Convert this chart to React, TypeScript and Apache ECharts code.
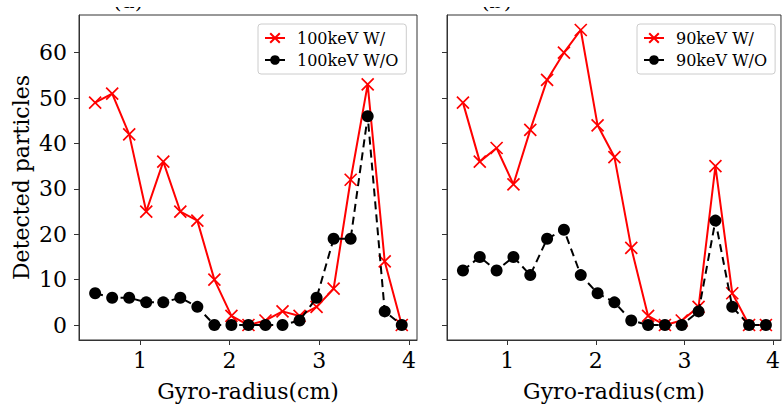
import React, { useEffect, useRef } from "react";
import * as echarts from "echarts";

const gyroRadius = [0.50, 0.69, 0.88, 1.07, 1.26, 1.45, 1.64, 1.83, 2.02, 2.21, 2.40, 2.59, 2.78, 2.97, 3.16, 3.35, 3.54, 3.73, 3.92];
const with100 = [49, 51, 42, 25, 36, 25, 23, 10, 2, 0, 1, 3, 2, 4, 8, 32, 53, 14, 0];
const without100 = [7, 6, 6, 5, 5, 6, 4, 0, 0, 0, 0, 0, 1, 6, 19, 19, 46, 3, 0];
const with90 = [49, 36, 39, 31, 43, 54, 60, 65, 44, 37, 17, 2, 0, 1, 4, 35, 7, 0, 0];
const without90 = [12, 15, 12, 15, 11, 19, 21, 11, 7, 5, 1, 0, 0, 0, 3, 23, 4, 0, 0];
const yTicks = [0, 10, 20, 30, 40, 50, 60];
const xTicks = [1, 2, 3, 4];
const seriesNames = ["100keV W/", "100keV W/O", "90keV W/", "90keV W/O"];
const panelTitles = ["(a)", "(b)"];

const FONT = "DejaVu Serif";
const XSYM = "path://M0,0L10,10M10,0L0,10";

const pairs = (ys: number[]) => gyroRadius.map((x, i) => [x, ys[i]]);

export default function App() {
  const ref = useRef<HTMLDivElement>(null);
  useEffect(() => {
    const chart = echarts.init(ref.current!, null, { renderer: "svg" });
    const grids = [
      { left: 79, top: 15, width: 338, height: 328 },
      { left: 447, top: 15, width: 338, height: 328 },
    ];
    const xAxis = [0, 1].map((i) => ({
      type: "value",
      gridIndex: i,
      min: 0.32,
      max: 4.09,
      name: "Gyro-radius(cm)",
      nameLocation: "middle",
      nameGap: 40,
      nameTextStyle: { fontFamily: FONT, fontSize: 22, color: "#000" },
      axisLine: { show: true, onZero: false, lineStyle: { color: "#333", width: 1 } },
      axisTick: { show: true, length: 5, customValues: xTicks, lineStyle: { color: "#333" } },
      axisLabel: { customValues: xTicks, margin: 9, fontFamily: FONT, fontSize: 22, color: "#000" },
      splitLine: { show: false },
    }));
    const yAxis = [0, 1].map((i) => ({
      type: "value",
      gridIndex: i,
      min: -3.3,
      max: 68.3,
      name: i === 0 ? "Detected particles" : "",
      nameLocation: "middle",
      nameGap: 47,
      nameTextStyle: { fontFamily: FONT, fontSize: 22, color: "#000" },
      axisLine: { show: true, onZero: false, lineStyle: { color: "#333", width: 1 } },
      axisTick: { show: true, length: 5, customValues: yTicks, lineStyle: { color: "#333" } },
      axisLabel: { show: i === 0, customValues: yTicks, margin: 12, fontFamily: FONT, fontSize: 22, color: "#000" },
      splitLine: { show: false },
    }));
    const redSeries = (name: string, data: number[], idx: number) => ({
      name,
      type: "line",
      xAxisIndex: idx,
      yAxisIndex: idx,
      data: pairs(data),
      symbol: XSYM,
      symbolSize: 12,
      lineStyle: { color: "#ff0000", width: 2 },
      itemStyle: { color: "#ff0000", borderColor: "#ff0000", borderWidth: 1.7 },
      z: 2,
    });
    const blackSeries = (name: string, data: number[], idx: number) => ({
      name,
      type: "line",
      xAxisIndex: idx,
      yAxisIndex: idx,
      data: pairs(data),
      symbol: "circle",
      symbolSize: 12,
      lineStyle: { color: "#000", width: 2, type: [8, 5] },
      itemStyle: { color: "#000" },
      z: 3,
    });
    const legendCommon = {
      orient: "vertical",
      itemWidth: 20,
      itemHeight: 12,
      itemGap: 6,
      padding: [6, 8, 6, 6],
      borderColor: "#ccc",
      borderWidth: 1,
      borderRadius: 3,
      backgroundColor: "rgba(255,255,255,0.8)",
      textStyle: { fontFamily: FONT, fontSize: 16, color: "#000", padding: [0, 0, 0, 7] },
    };
    chart.setOption({
      animation: false,
      grid: grids.map((g) => ({ ...g, show: true, borderColor: "#333", borderWidth: 1, backgroundColor: "transparent" })),
      xAxis,
      yAxis,
      legend: [
        { ...legendCommon, data: [seriesNames[0], seriesNames[1]], left: 258, top: 24 },
        { ...legendCommon, data: [seriesNames[2], seriesNames[3]], left: 637, top: 24 },
      ],
      graphic: [
        { type: "text", x: 113, y: 11, z: 10, style: { text: panelTitles[0], fontFamily: FONT, fontSize: 22, fill: "#000", verticalAlign: "bottom" } },
        { type: "text", x: 481, y: 11, z: 10, style: { text: panelTitles[1], fontFamily: FONT, fontSize: 22, fill: "#000", verticalAlign: "bottom" } },
        { type: "rect", z: 20, shape: { x: 100, y: 0, width: 60, height: 7 }, style: { fill: "#fff" } },
        { type: "rect", z: 20, shape: { x: 468, y: 0, width: 60, height: 7 }, style: { fill: "#fff" } },
      ],
      series: [
        redSeries(seriesNames[0], with100, 0),
        blackSeries(seriesNames[1], without100, 0),
        redSeries(seriesNames[2], with90, 1),
        blackSeries(seriesNames[3], without90, 1),
      ],
    });
    return () => chart.dispose();
  }, []);
  return <div ref={ref} style={{ position: "absolute", left: 0, top: 0, width: 783, height: 407 }} />;
}
